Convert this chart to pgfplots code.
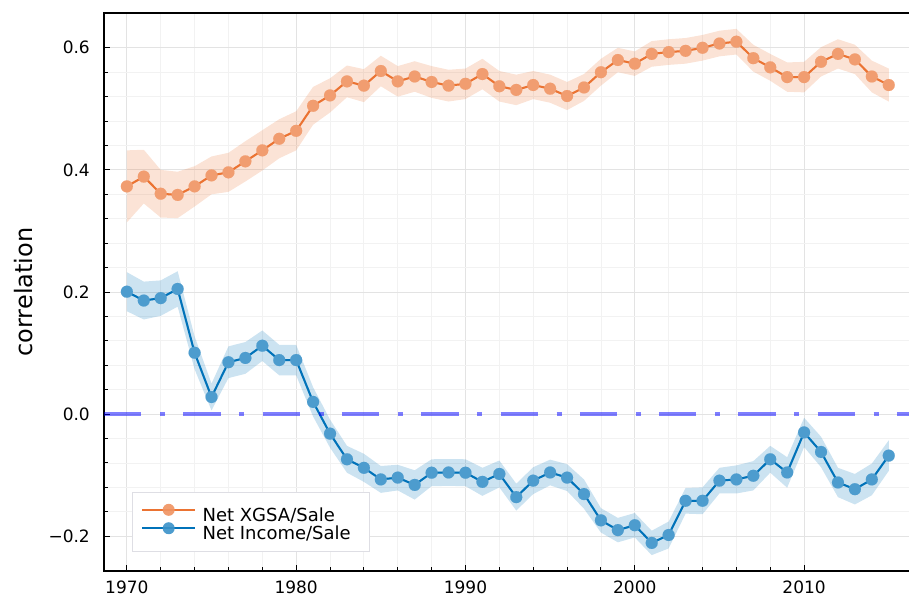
\documentclass[border=0pt]{standalone}
\usepackage{fontspec}
\setmainfont{DejaVu Sans}
\usepackage{pgfplots}
\usepackage{pgfplotstable}
\pgfplotsset{compat=1.18}
\usepgfplotslibrary{fillbetween}
\definecolor{corange}{RGB}{235,115,50}
\definecolor{cblue}{RGB}{0,114,185}
\definecolor{morange}{RGB}{241,157,112}
\definecolor{mblue}{RGB}{77,156,206}
\definecolor{hcol}{RGB}{0,0,255}
\definecolor{legbox}{RGB}{222,222,228}

\pgfplotstableread{
year xg xge ni nie
1970 0.373 0.059 0.2005 0.032
1971 0.389 0.044 0.186 0.031
1972 0.361 0.039 0.190 0.029
1973 0.359 0.038 0.205 0.029
1974 0.373 0.033 0.1005 0.027
1975 0.391 0.031 0.028 0.022
1976 0.396 0.032 0.085 0.026
1977 0.414 0.033 0.092 0.026
1978 0.432 0.033 0.112 0.025
1979 0.451 0.032 0.0885 0.025
1980 0.464 0.032 0.0885 0.025
1981 0.505 0.031 0.020 0.024
1982 0.522 0.028 -0.032 0.023
1983 0.545 0.026 -0.074 0.022
1984 0.538 0.027 -0.088 0.023
1985 0.562 0.025 -0.107 0.022
1986 0.545 0.025 -0.104 0.021
1987 0.553 0.025 -0.116 0.024
1988 0.544 0.026 -0.096 0.022
1989 0.538 0.026 -0.0956 0.022
1990 0.541 0.025 -0.096 0.022
1991 0.557 0.025 -0.111 0.023
1992 0.537 0.025 -0.098 0.022
1993 0.531 0.025 -0.136 0.022
1994 0.539 0.023 -0.109 0.022
1995 0.533 0.023 -0.0956 0.021
1996 0.521 0.023 -0.104 0.022
1997 0.535 0.022 -0.131 0.024
1998 0.560 0.022 -0.174 0.020
1999 0.580 0.020 -0.190 0.020
2000 0.574 0.020 -0.182 0.020
2001 0.590 0.021 -0.211 0.020
2002 0.593 0.021 -0.198 0.022
2003 0.595 0.021 -0.142 0.021
2004 0.600 0.021 -0.142 0.022
2005 0.607 0.021 -0.109 0.021
2006 0.610 0.021 -0.107 0.023
2007 0.583 0.022 -0.101 0.024
2008 0.568 0.022 -0.074 0.022
2009 0.552 0.024 -0.0956 0.025
2010 0.552 0.025 -0.030 0.024
2011 0.577 0.024 -0.062 0.025
2012 0.590 0.024 -0.112 0.024
2013 0.581 0.024 -0.123 0.025
2014 0.553 0.026 -0.107 0.026
2015 0.539 0.027 -0.068 0.025
}\data

\begin{document}
\begin{tikzpicture}
\begin{axis}[
  at={(104pt,27pt)}, anchor=south west,
  scale only axis, width=807.6pt, height=558pt,
  xmin=1968.65, xmax=2016.35, ymin=-0.257, ymax=0.657,
  /pgf/number format/assume math mode=true,
  xtick={1970,1980,1990,2000,2010},
  xticklabels={1970,1980,1990,2000,2010},
  ytick={-0.2,0,0.2,0.4,0.6},
  yticklabels={−0.2,0.0,0.2,0.4,0.6},
  minor x tick num=4, minor y tick num=4,
  xtick pos=bottom, ytick pos=left,
  tick align=inside,
  major tick length=6pt, minor tick length=4pt,
  every tick/.style={black, line width=1pt},
  axis line style={black, line width=1.5pt},
  grid=both,
  major grid style={black!11, line width=1pt},
  minor grid style={black!5, line width=0.8pt},
  xticklabel style={anchor=north, inner sep=0pt, yshift=-10pt, font=\fontsize{17}{20}\selectfont},
  yticklabel style={anchor=east, inner sep=0pt, xshift=-14pt, font=\fontsize{17}{20}\selectfont},
  ylabel={correlation},
  every axis y label/.style={at={(axis description cs:-0.0991,0.5)}, rotate=90, anchor=center, inner sep=0pt, font=\fontsize{24}{28}\selectfont},
  legend cell align=left,
  legend style={at={(axis description cs:0.0343,0.141)}, anchor=north west,
    draw=legbox, line width=1pt, fill=white,
    inner xsep=9pt, inner ysep=11pt,
    nodes={inner sep=0pt, text height=11pt, text depth=1pt},
    column sep=6.4pt, row sep=-0.2pt,
    font=\fontsize{18}{21}\selectfont},
]
% orange ribbon
\addplot[name path=ou, draw=none, forget plot] table[x=year, y expr=\thisrow{xg}+\thisrow{xge}] {\data};
\addplot[name path=ol, draw=none, forget plot] table[x=year, y expr=\thisrow{xg}-\thisrow{xge}] {\data};
\addplot[fill=corange, fill opacity=0.2, draw=none, forget plot] fill between[of=ou and ol];
% blue ribbon
\addplot[name path=bu, draw=none, forget plot] table[x=year, y expr=\thisrow{ni}+\thisrow{nie}] {\data};
\addplot[name path=bl, draw=none, forget plot] table[x=year, y expr=\thisrow{ni}-\thisrow{nie}] {\data};
\addplot[fill=cblue, fill opacity=0.2, draw=none, forget plot] fill between[of=bu and bl];
% orange series
\addplot[corange, line width=2pt, mark=*, mark size=6pt,
  mark options={draw=morange, fill=morange, line width=0.1pt},
  legend image code/.code={
    \draw[corange, line width=2pt] (0pt,6.6pt) -- (53pt,6.6pt);
    \path[fill=morange, draw=none] (26.5pt,6.6pt) circle (6pt);
    \draw[corange, line width=2pt, opacity=0.3] (20.5pt,6.6pt) -- (32.5pt,6.6pt);}]
  table[x=year, y=xg] {\data};
\addlegendentry{Net XGSA/Sale}
\addplot[corange, line width=2pt, opacity=0.3, forget plot] table[x=year, y=xg] {\data};
% blue series
\addplot[cblue, line width=2pt, mark=*, mark size=6pt,
  mark options={draw=mblue, fill=mblue, line width=0.1pt},
  legend image code/.code={
    \draw[cblue, line width=2pt] (0pt,6.6pt) -- (53pt,6.6pt);
    \path[fill=mblue, draw=none] (26.5pt,6.6pt) circle (6pt);
    \draw[cblue, line width=2pt, opacity=0.3] (20.5pt,6.6pt) -- (32.5pt,6.6pt);}]
  table[x=year, y=ni] {\data};
\addlegendentry{Net Income/Sale\hspace*{9.7pt}}
\addplot[cblue, line width=2pt, opacity=0.3, forget plot] table[x=year, y=ni] {\data};
% zero line
\addplot[hcol, opacity=0.5, line width=4pt, line cap=butt,
  dash pattern=on 37.3pt off 18.7pt on 5pt off 18.3pt, forget plot]
  coordinates {(1968.65,0) (2016.35,0)};
\end{axis}
\pgfresetboundingbox
\useasboundingbox (0pt,0pt) rectangle (909pt,598pt);
\end{tikzpicture}
\end{document}
